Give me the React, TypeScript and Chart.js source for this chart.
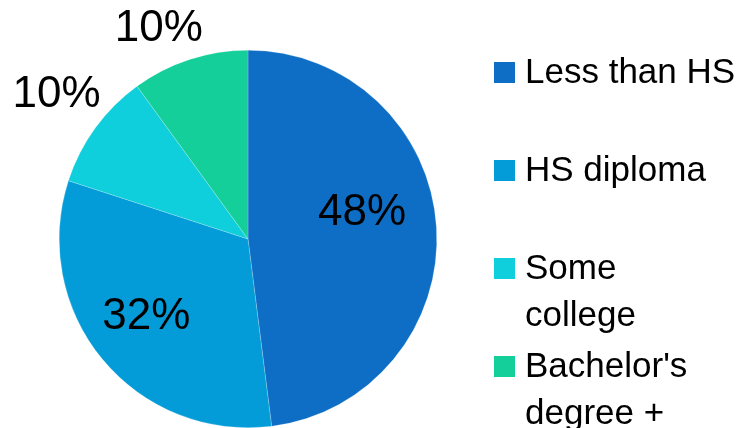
import React, { useEffect, useRef } from "react";
import { Chart, registerables } from "chart.js";

Chart.register(...registerables);

const categories = ["Less than HS", "HS diploma", "Some college", "Bachelor's degree +"];
const legendLines = [["Less than HS"], ["HS diploma"], ["Some", "college"], ["Bachelor's", "degree +"]];
const shares = [48, 32, 10, 10];
const sliceColors = ["#0E6EC5", "#049CD8", "#0ECFDB", "#14CF9A"];
const labelRadius = [0.62, 0.68, 1.27, 1.21];
const labelAngleShift = [-9.4, 2, 1, -5];

const FONT = "'Liberation Sans', Arial, sans-serif";

const pctLabels = {
  id: "pctLabels",
  afterDatasetsDraw(chart: any) {
    const ctx = chart.ctx;
    const meta = chart.getDatasetMeta(0);
    const values = chart.data.datasets[0].data as number[];
    ctx.save();
    ctx.font = `44px ${FONT}`;
    ctx.fillStyle = "#000000";
    ctx.textAlign = "center";
    ctx.textBaseline = "middle";
    meta.data.forEach((arc: any, i: number) => {
      const p = arc.getProps(["x", "y", "startAngle", "endAngle", "outerRadius"], true);
      const a = (p.startAngle + p.endAngle) / 2 + (labelAngleShift[i] * Math.PI) / 180;
      const r = p.outerRadius * labelRadius[i];
      ctx.fillText(`${values[i]}%`, p.x + Math.cos(a) * r, p.y + Math.sin(a) * r);
    });
    ctx.restore();
  },
};

const sideLegend = {
  id: "sideLegend",
  afterDraw(chart: any) {
    const ctx = chart.ctx;
    const colors = chart.data.datasets[0].backgroundColor as string[];
    ctx.save();
    ctx.font = `35px ${FONT}`;
    ctx.fillStyle = "#000000";
    ctx.textAlign = "left";
    ctx.textBaseline = "alphabetic";
    const boxX = 494;
    const boxSize = 21;
    const textX = 525;
    const firstBase = 83;
    const pitch = 98;
    const lineH = 47;
    legendLines.forEach((lines, i) => {
      const base = firstBase + i * pitch;
      ctx.fillStyle = colors[i];
      ctx.fillRect(boxX, base - 21, boxSize, boxSize);
      ctx.fillStyle = "#000000";
      lines.forEach((ln, j) => ctx.fillText(ln, textX, base + j * lineH));
    });
    ctx.restore();
  },
};

export default function App() {
  const ref = useRef<HTMLCanvasElement | null>(null);
  useEffect(() => {
    document.body.style.margin = "0";
    const canvas = ref.current!;
    const chart = new Chart(canvas, {
      type: "pie",
      data: {
        labels: categories,
        datasets: [
          {
            data: shares,
            backgroundColor: sliceColors,
            borderColor: "rgba(255,255,255,0.5)",
            borderWidth: 0.4,
            hoverOffset: 0,
          },
        ],
      },
      options: {
        responsive: false,
        animation: false,
        devicePixelRatio: 1,
        layout: { padding: { top: 50, bottom: 0, left: 59, right: 309 } },
        plugins: {
          legend: { display: false },
          tooltip: { enabled: false },
        },
      },
      plugins: [pctLabels, sideLegend],
    });
    return () => chart.destroy();
  }, []);
  return (
    <div style={{ width: 746, height: 428, background: "#ffffff" }}>
      <canvas ref={ref} width={746} height={428} style={{ width: 746, height: 428, display: "block" }} />
    </div>
  );
}
